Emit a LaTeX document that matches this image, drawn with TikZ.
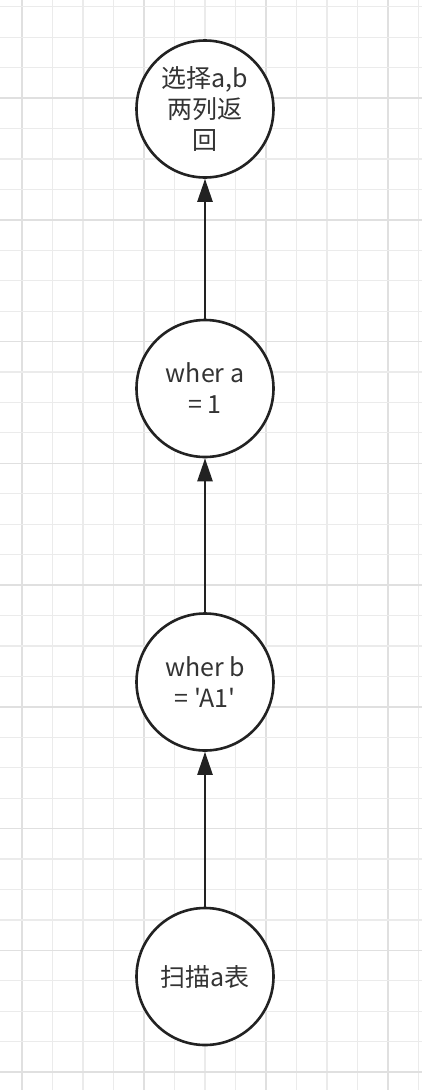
\documentclass[tikz,border=0pt]{standalone}
\usepackage{fontspec}
\setmainfont{Noto Sans CJK SC}[Ligatures=TeXOff]
\usetikzlibrary{arrows.meta}
\definecolor{gridminor}{HTML}{EBEBEB}
\definecolor{gridmajor}{HTML}{E0E0E0}
\definecolor{ink}{HTML}{222222}
\definecolor{txt}{HTML}{333333}
\tikzset{
  stage/.style={circle, draw=ink, line width=2.6bp, fill=white, minimum size=137bp, inner sep=0pt,
    align=center, text=txt, font=\fontsize{25bp}{31bp}\selectfont},
  flow/.style={draw=ink, line width=2.5bp, -{Triangle[length=23bp,width=15bp]}},
}
\begin{document}
\begin{tikzpicture}[x=1bp,y=-1bp]
\useasboundingbox (0,0) rectangle (422,1090);
\fill[white] (0,0) rectangle (422,1090);
% grid
\foreach \i in {0,...,13}{
  \pgfmathsetmacro{\xx}{22+30.5*\i}
  \pgfmathtruncatemacro{\m}{mod(\i,4)}
  \ifnum\m=0
    \draw[gridmajor, line width=1.6bp] (\xx,0) -- (\xx,1090);
  \else
    \draw[gridminor, line width=1.2bp] (\xx,0) -- (\xx,1090);
  \fi
}
\foreach \i in {0,...,35}{
  \pgfmathsetmacro{\yy}{6.7+30.44*\i}
  \pgfmathtruncatemacro{\m}{mod(\i,4)}
  \ifnum\m=3
    \draw[gridmajor, line width=1.6bp] (0,\yy) -- (422,\yy);
  \else
    \draw[gridminor, line width=1.2bp] (0,\yy) -- (422,\yy);
  \fi
}
\node[stage] (sel) at (205,109) {选择a,b\\两列返\\回};
\node[stage] (wa) at (205,388.5) {wher a\\= 1};
\node[stage] (wb) at (205,682) {wher b\\= 'A1'};
\node[stage] (scan) at (205,976.5) {扫描a表};
\draw[flow] (scan) -- (wb);
\draw[flow] (wb) -- (wa);
\draw[flow] (wa) -- (sel);
\end{tikzpicture}
\end{document}
